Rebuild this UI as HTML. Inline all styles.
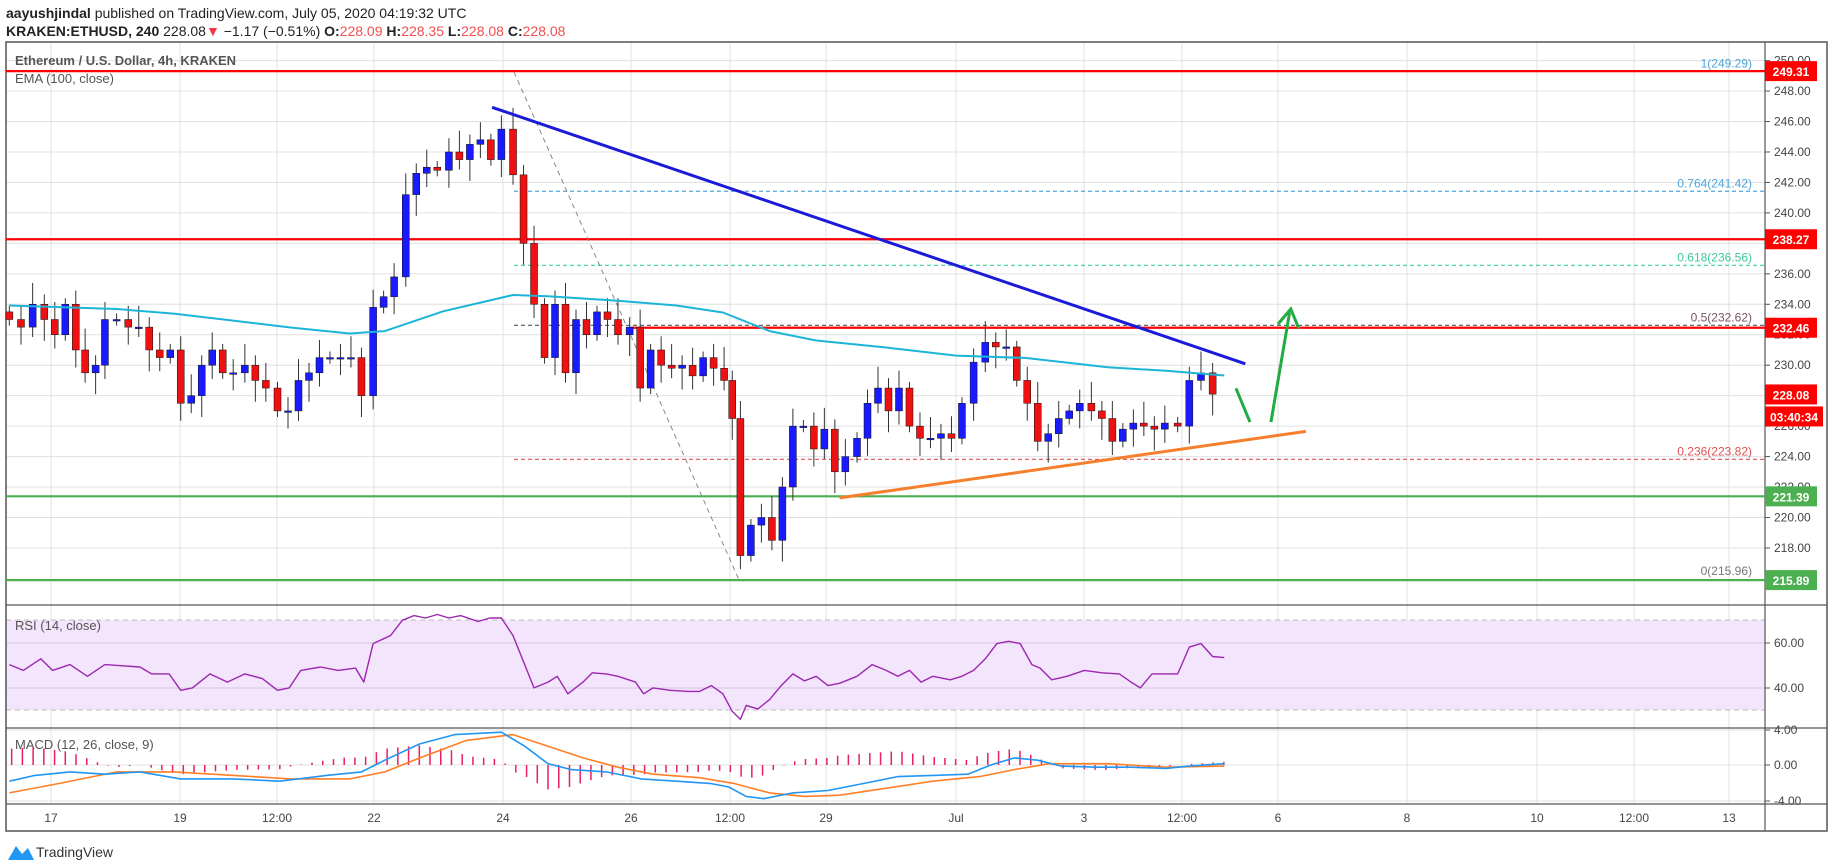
<!DOCTYPE html>
<html><head><meta charset="utf-8"><style>
body{margin:0;background:#fff;font-family:"Liberation Sans",sans-serif;}
svg{display:block}
</style></head><body>
<svg id="s" width="1828" height="868" xmlns="http://www.w3.org/2000/svg" font-family="Liberation Sans, sans-serif">
<rect width="1828" height="868" fill="#fff"/>
<text x="6" y="18" font-size="14" fill="#222"><tspan font-weight="bold">aayushjindal</tspan> published on TradingView.com, July 05, 2020 04:19:32 UTC</text>
<text x="6" y="36" font-size="14" fill="#222"><tspan font-weight="bold">KRAKEN:ETHUSD, 240</tspan>  228.08<tspan fill="#f23645">▼</tspan> −1.17 (−0.51%) <tspan font-weight="bold">O:</tspan><tspan fill="#f05050">228.09</tspan> <tspan font-weight="bold">H:</tspan><tspan fill="#f05050">228.35</tspan> <tspan font-weight="bold">L:</tspan><tspan fill="#f05050">228.08</tspan> <tspan font-weight="bold">C:</tspan><tspan fill="#f05050">228.08</tspan></text>
<g id="g"></g>
</svg>
<script>
const NS="http://www.w3.org/2000/svg",G=document.getElementById('g');
function el(t,a,txt){const e=document.createElementNS(NS,t);for(const k in a)e.setAttribute(k,a[k]);if(txt!==undefined)e.textContent=txt;G.appendChild(e);return e;}
const K=1.166,L=6,R=1765,RB=1827,T=42,MB=605,RB2=728,MC=804,TB=831;
const py=p=>60.6+(250-p)*15.23;
// grid vertical
const days=[[51,'17'],[180,'19'],[277,'12:00'],[374,'22'],[503,'24'],[631,'26'],[730,'12:00'],[826,'29'],[956,'Jul'],[1084,'3'],[1182,'12:00'],[1278,'6'],[1407,'8'],[1537,'10'],[1634,'12:00'],[1729,'13']];
days.forEach(d=>{el('line',{x1:d[0],x2:d[0],y1:T,y2:MC,stroke:'#e0e0e0','stroke-width':1});el('text',{x:d[0],y:822,'font-size':12,fill:'#444','text-anchor':'middle'},d[1]);});
for(let p=218;p<=250;p+=2){const y=py(p);el('line',{x1:L,x2:R,y1:y,y2:y,stroke:'#e0e0e0'});el('line',{x1:R,x2:R+5,y1:y,y2:y,stroke:'#555'});el('text',{x:R+9,y:y+4,'font-size':12,fill:'#444'},p.toFixed(2));}
// RSI pane
el('rect',{x:L,y:620,width:R-L,height:90,fill:'#f3e5fb'});
[620,710].forEach(y=>el('line',{x1:L,x2:R,y1:y,y2:y,stroke:'#bbb','stroke-dasharray':'5,4'}));
[[643,'60.00'],[688,'40.00']].forEach(a=>{el('line',{x1:L,x2:R,y1:a[0],y2:a[0],stroke:'#d6c6e0'});el('line',{x1:R,x2:R+5,y1:a[0],y2:a[0],stroke:'#555'});el('text',{x:R+9,y:a[0]+4,'font-size':12,fill:'#444'},a[1]);});
[[730,'4.00'],[765,'0.00'],[801,'-4.00']].forEach(a=>{el('line',{x1:L,x2:R,y1:a[0],y2:a[0],stroke:'#e0e0e0'});el('line',{x1:R,x2:R+5,y1:a[0],y2:a[0],stroke:'#555'});el('text',{x:R+9,y:a[0]+4,'font-size':12,fill:'#444'},a[1]);});
// borders
el('rect',{x:L,y:T,width:RB-L,height:TB-T,fill:'none',stroke:'#555','stroke-width':1.5});
[MB,RB2,MC].forEach(y=>el('line',{x1:L,x2:RB,y1:y,y2:y,stroke:'#555','stroke-width':1.2}));
el('line',{x1:R,x2:R,y1:T,y2:TB,stroke:'#555','stroke-width':1.2});
el('text',{x:15,y:65,'font-size':13,fill:'#555','font-weight':'bold'},'Ethereum / U.S. Dollar, 4h, KRAKEN');
el('text',{x:15,y:83,'font-size':13,fill:'#555'},'EMA (100, close)');
el('text',{x:15,y:630,'font-size':13,fill:'#555'},'RSI (14, close)');
el('text',{x:15,y:749,'font-size':13,fill:'#555'},'MACD (12, 26, close, 9)');
// horizontal levels
function hl(p,c,x1,w,dash){const y=py(p);el('line',{x1:x1,x2:R,y1:y,y2:y,stroke:c,'stroke-width':w,'stroke-dasharray':dash||''});}
hl(241.42,'#4ea5dc',514,1.2,'4,3');hl(236.56,'#3cc9a0',514,1.2,'4,3');hl(232.62,'#555',514,1.2,'4,3');hl(223.82,'#e05050',514,1.2,'4,3');
hl(249.31,'#f00',L,2.2);hl(238.27,'#f00',L,2.2);hl(232.46,'#f00',631,2.2);hl(221.39,'#4caf50',L,2.2);hl(215.89,'#4caf50',L,2.2);
[[249.29,'1(249.29)','#4ea5dc'],[241.42,'0.764(241.42)','#4ea5dc'],[236.56,'0.618(236.56)','#3cc9a0'],[232.62,'0.5(232.62)','#7a5560'],[223.82,'0.236(223.82)','#e05050'],[215.96,'0(215.96)','#777']].forEach(a=>el('text',{x:1752,y:py(a[0])-4,'font-size':12,fill:a[2],'text-anchor':'end'},a[1]));
el('line',{x1:514,y1:72,x2:739,y2:580,stroke:'#888','stroke-dasharray':'5,4'});
// candles
const C=[[8,233],[18,232.5],[28,234],[38,233],[47,232],[56,234],[65,231],[73,229.5],[82,230],[90,233],[100,233],[110,232.5],[119,232.5],[128,231],[137,230.5],[146,231],[155,227.5],[164,228],[173,230],[182,231],[191,229.5],[200,229.5],[210,230],[219,229],[228,228.5],[238,227],[247,227],[256,229],[265,229.5],[274,230.5],[283,230.5],[292,230.5],[301,230.5],[310,228],[320,233.8],[329,234.5],[338,235.8],[348,241.2],[357,242.6],[366,243],[375,242.8],[385,244],[394,243.5],[403,244.5],[412,244.8],[421,243.5],[430,245.5],[440,242.5],[449,238],[458,234],[467,230.5],[476,234],[485,229.5],[494,233],[503,232],[512,233.5],[521,233],[530,232],[540,232.5],[549,228.5],[558,231],[567,230],[576,229.8],[585,230],[594,229.3],[603,230.5],[612,229.8],[621,229],[628,226.5],[635,217.5],[644,219.5],[653,220],[662,218.5],[671,222],[680,226],[689,226],[698,224.5],[707,225.8],[716,223],[725,224],[735,225.2],[744,227.5],[753,228.5],[762,227],[771,228.5],[780,226],[789,225.2],[798,225.2],[807,225.5],[816,225.2],[825,227.5],[835,230.2],[845,231.5],[854,231.2],[863,231.2],[872,229],[881,227.5],[890,225],[899,225.5],[908,226.5],[917,227],[926,227.5],[936,227],[945,226.5],[954,225],[963,225.8],[972,226.2],[981,226],[990,225.8],[999,226.2],[1010,226],[1020,229],[1030,229.5],[1040,228.1]];
let prev=C[0][1]+0.5;
C.forEach((c,i)=>{const x=c[0]*K,o=prev,cl=c[1];const up=cl>=o;const hi=Math.max(o,cl)+0.4+((i*7)%5)*0.25,lo=Math.min(o,cl)-0.4-((i*3)%5)*0.25;
el('line',{x1:x,x2:x,y1:py(hi),y2:py(lo),stroke:'#333','stroke-width':1});
const y1=py(Math.max(o,cl)),y2=py(Math.min(o,cl));el('rect',{x:x-3.5,y:y1,width:7,height:Math.max(1.5,y2-y1),fill:up?'#1a1aff':'#ee1111',stroke:'#111','stroke-width':0.5});prev=cl;});
function pl(pts,c,w,f){el('polyline',{points:pts.map(p=>(p[0]*K).toFixed(1)+','+f(p[1]).toFixed(1)).join(' '),fill:'none',stroke:c,'stroke-width':w,'stroke-linejoin':'round'});}
const id=v=>v*K;
pl([[8,262],[100,265],[150,269],[200,275],[250,281],[300,286],[330,284],[380,267],[440,253],[470,254],[530,258],[580,262],[620,268],[660,284],[700,292],[760,298],[820,305],[880,307],[950,315],[1000,318],[1050,322]],'#1cb5d8',2,id);
// trend lines
el('line',{x1:422*K,y1:92*K,x2:1068*K,y2:312*K,stroke:'#1a1ad8','stroke-width':3});
el('line',{x1:720*K,y1:427*K,x2:1120*K,y2:370*K,stroke:'#f57f2a','stroke-width':3});
el('line',{x1:1060*K,y1:333*K,x2:1072*K,y2:362*K,stroke:'#22aa44','stroke-width':3});
el('line',{x1:1090*K,y1:362*K,x2:1106*K,y2:268*K,stroke:'#22aa44','stroke-width':3});
el('polyline',{points:`${1096*K},${278*K} ${1107*K},${265*K} ${1114*K},${282*K}`,fill:'none',stroke:'#22aa44','stroke-width':3});
// RSI
pl([[8,570],[20,575],[35,565],[45,575],[60,570],[75,580],[90,570],[120,572],[130,578],[145,578],[155,592],[165,590],[180,578],[195,585],[210,578],[225,582],[238,592],[248,590],[258,575],[275,572],[290,575],[305,573],[312,585],[320,552],[335,545],[345,532],[355,528],[365,530],[375,527],[385,530],[395,528],[410,533],[420,530],[430,530],[440,545],[450,570],[458,590],[470,585],[478,580],[487,595],[500,585],[508,577],[520,578],[530,580],[545,585],[552,595],[560,590],[575,592],[590,593],[600,593],[610,588],[620,595],[628,610],[635,617],[640,605],[650,608],[660,600],[670,588],[680,578],[690,584],[700,580],[710,588],[720,586],[735,580],[748,570],[760,575],[770,580],[780,575],[790,585],[800,580],[815,583],[825,580],[835,575],[845,565],[855,552],[865,550],[875,552],[885,570],[892,573],[902,583],[915,580],[930,575],[945,577],[960,578],[970,585],[978,590],[988,578],[1000,578],[1010,578],[1020,555],[1030,552],[1040,563],[1050,564]],'#9c27b0',1.4,id);
// MACD
const B=[[8,670],[30,665],[60,662],[90,664],[120,662],[155,668],[200,668],[240,670],[280,665],[310,662],[330,652],[360,638],[390,630],[430,628],[450,640],[470,655],[490,660],[520,662],[550,668],[580,670],[610,672],[625,675],[640,683],[655,685],[680,680],[710,678],[740,672],[770,666],[800,665],[830,664],[850,656],[870,650],[890,652],[910,657],[940,658],[970,658],[1000,659],[1020,657],[1050,655]];
const O=[[8,680],[50,672],[100,662],[150,662],[200,665],[250,668],[300,668],[330,662],[360,650],[400,635],[440,630],[470,640],[500,650],[530,658],[560,664],[600,667],[630,672],[660,680],[690,683],[720,682],[760,676],[800,670],[840,666],[870,660],[900,655],[950,655],[1000,658],[1050,657]];
function itp(a,x){for(let i=1;i<a.length;i++)if(x<=a[i][0]){const t=(x-a[i-1][0])/(a[i][0]-a[i-1][0]);return a[i-1][1]+t*(a[i][1]-a[i-1][1]);}return a[a.length-1][1];}
for(let x=10;x<=1050;x+=9.2){const d=(itp(O,x)-itp(B,x))*K*1.4;el('line',{x1:x*K,x2:x*K,y1:765,y2:765-d,stroke:'#e91e63','stroke-width':1.5});}
pl(O,'#ff7f27',1.6,id);pl(B,'#2196f3',1.6,id);
// axis labels
function lab(p,t,c,w){const y=typeof p==='string'?+p:py(p);el('rect',{x:R,y:y-10,width:w||52,height:20,fill:c});el('text',{x:R+(w||52)/2,y:y+5,'font-size':12,'font-weight':'bold',fill:'#fff','text-anchor':'middle'},t);}
lab(249.31,'249.31','#f00');lab(238.27,'238.27','#f00');lab(232.46,'232.46','#f00');lab(228.08,'228.08','#f00');lab(''+(py(228.08)+22),'03:40:34','#f00',58);lab(221.39,'221.39','#4caf50');lab(215.89,'215.89','#4caf50');
// logo
el('path',{d:'M8 860 L16 846 L22 854 L28 848 L34 860 Z',fill:'#2196f3'});
el('text',{x:36,y:857,'font-size':14,fill:'#333'},'TradingView');
</script>
</body></html>
